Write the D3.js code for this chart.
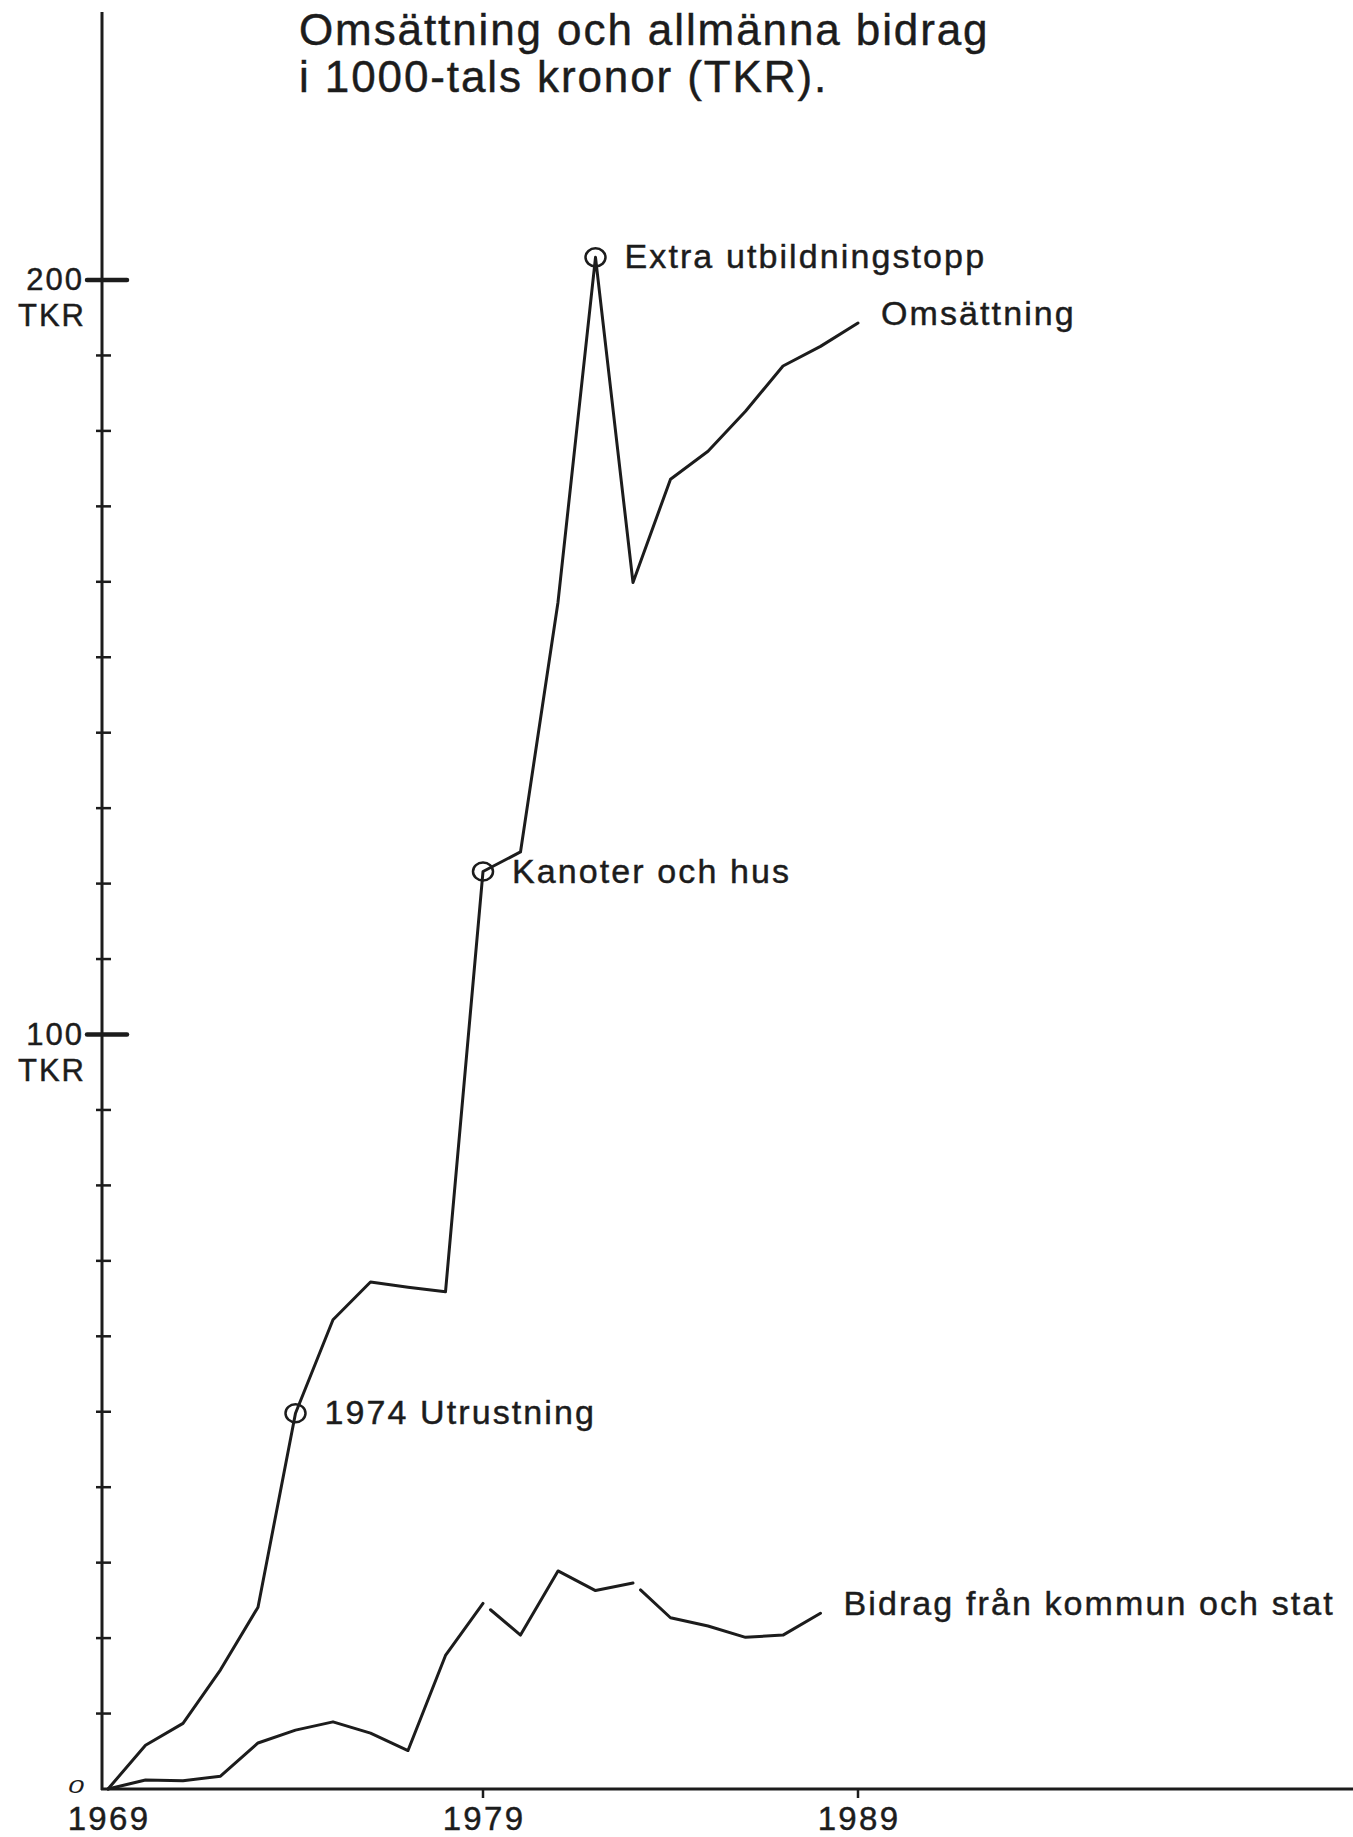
<!DOCTYPE html>
<html><head><meta charset="utf-8">
<script src="https://cdn.jsdelivr.net/npm/d3@7/dist/d3.min.js"></script>
<style>html,body{margin:0;padding:0;background:#fff;} svg{display:block;}</style>
</head><body>
<svg id="chart" width="1353" height="1837"></svg>
<script>
// ---- data ----
const years = [1969,1970,1971,1972,1973,1974,1975,1976,1977,1978,1979,1980,1981,1982,1983,1984,1985,1986,1987,1988,1989];
const omsattning = [0,5.8,8.7,15.8,24.1,49.8,62.2,67.2,66.5,65.9,121.6,124.2,157.3,203,159.9,173.6,177.3,182.6,188.6,191.2,194.3];
const bidragYears = [1969,1970,1971,1972,1973,1974,1975,1976,1977,1978,1979,1980,1981,1982,1983,1984,1985,1986,1987,1988];
const bidrag = [0,1.2,1.1,1.7,6.1,7.8,8.9,7.4,5.1,17.7,24.6,20.4,28.9,26.3,27.3,22.7,21.6,20.1,20.4,23.3];
const bidragBreaks = [1979,1983];
const annotationYears = [1974,1979,1982];
const annotationLabels = ["1974 Utrustning","Kanoter och hus","Extra utbildningstopp"];
const seriesLabels = ["Omsättning","Bidrag från kommun och stat"];
const titleLines = ["Omsättning och allmänna bidrag","i 1000-tals kronor (TKR)."];
const xTickValues = [1969,1979,1989];
const yMajorTicks = [100,200];
const yMinorTicks = [10,20,30,40,50,60,70,80,90,110,120,130,140,150,160,170,180,190];
const yUnit = "TKR";
const zeroLabel = "0";

// ---- layout ----
const FONT = "'Liberation Sans', Arial, Helvetica, sans-serif";
const INK = "#1c1c1c";
const axisX = 102, axisTop = 12, rightEdge = 1353;
const x = d3.scaleLinear().domain([1969,1989]).range([108,858]);
const y = d3.scaleLinear().domain([0,200]).range([1789,280]);

const svg = d3.select("#chart");
svg.append("rect").attr("width",1353).attr("height",1837).attr("fill","#fff");

function label(sel, size, ls){
  return sel.attr("font-family",FONT).attr("font-size",size).attr("letter-spacing",ls)
    .attr("fill",INK).attr("stroke",INK).attr("stroke-width",0.45);
}

// title
const title = label(svg.append("text"),44,1.9);
titleLines.forEach((t,i)=>{
  title.append("tspan").attr("x",299).attr("y",45 + i*47).text(t);
});

// axes
svg.append("line").attr("x1",axisX).attr("x2",axisX).attr("y1",axisTop).attr("y2",y(0)+1)
  .attr("stroke",INK).attr("stroke-width",3);
svg.append("line").attr("x1",axisX-1).attr("x2",rightEdge).attr("y1",y(0)).attr("y2",y(0))
  .attr("stroke",INK).attr("stroke-width",3);

// y ticks
svg.selectAll(".ymin").data(yMinorTicks).join("line")
  .attr("x1",axisX-6).attr("x2",axisX+9).attr("y1",d=>y(d)).attr("y2",d=>y(d))
  .attr("stroke",INK).attr("stroke-width",2.5);
svg.selectAll(".ymaj").data(yMajorTicks).join("line")
  .attr("x1",axisX-15).attr("x2",axisX+25).attr("y1",d=>y(d)).attr("y2",d=>y(d))
  .attr("stroke",INK).attr("stroke-width",4.5).attr("stroke-linecap","round");
svg.selectAll(".ylab").data(yMajorTicks).join("text")
  .call(s=>label(s,31,2)).attr("text-anchor","end")
  .attr("x",84).attr("y",d=>y(d)+10).text(d=>d);
svg.selectAll(".yunit").data(yMajorTicks).join("text")
  .call(s=>label(s,31,2)).attr("text-anchor","end")
  .attr("x",86).attr("y",d=>y(d)+46).text(yUnit);

// zero label
svg.append("text").attr("font-family",FONT).attr("font-size",19).attr("font-style","italic")
  .attr("fill",INK).attr("text-anchor","middle")
  .attr("transform",`translate(76,${y(0)+4}) scale(1.5,0.95)`).text(zeroLabel);

// x ticks
svg.selectAll(".xt").data(xTickValues.slice(1)).join("line")
  .attr("x1",d=>x(d)).attr("x2",d=>x(d)).attr("y1",y(0)).attr("y2",y(0)+9)
  .attr("stroke",INK).attr("stroke-width",2.5);
svg.selectAll(".xl").data(xTickValues).join("text")
  .call(s=>label(s,33,2.3)).attr("text-anchor","middle")
  .attr("x",d=>x(d)+1).attr("y",1830).text(d=>d);

// lines
const line = d3.line().x(d=>x(d.year)).y(d=>y(d.value));
const omsData = years.map((yr,i)=>({year:yr,value:omsattning[i]}));
svg.append("path").attr("d",line(omsData)).attr("fill","none").attr("stroke",INK)
  .attr("stroke-width",3).attr("stroke-linejoin","round").attr("stroke-linecap","round");

const bidData = bidragYears.map((yr,i)=>({year:yr,value:bidrag[i]}));
// split into pieces with small gaps after the break years
const pieces = [];
let cur = [];
bidData.forEach((d,i)=>{
  cur.push(d);
  if (bidragBreaks.includes(d.year) && i < bidData.length-1) {
    pieces.push(cur);
    const n = bidData[i+1], t = 0.2;
    cur = [{year: d.year + t*(n.year-d.year), value: d.value + t*(n.value-d.value)}];
  }
});
pieces.push(cur);
svg.selectAll(".bid").data(pieces).join("path").attr("d",p=>line(p))
  .attr("fill","none").attr("stroke",INK).attr("stroke-width",3)
  .attr("stroke-linejoin","round").attr("stroke-linecap","round");

// annotation circles + labels
annotationYears.forEach((yr,i)=>{
  const v = omsattning[years.indexOf(yr)];
  svg.append("ellipse").attr("cx",x(yr)).attr("cy",y(v)).attr("rx",10).attr("ry",9)
    .attr("fill","none").attr("stroke",INK).attr("stroke-width",2.5);
  label(svg.append("text"),34,2.1)
    .attr("x",x(yr)+29).attr("y",y(v)+11).text(annotationLabels[i]);
});

// series end labels
const ends = [omsData[omsData.length-1], bidData[bidData.length-1]];
ends.forEach((d,i)=>{
  label(svg.append("text"),34,2.1)
    .attr("x",x(d.year)+23).attr("y",y(d.value)+2).text(seriesLabels[i]);
});
</script>
</body></html>
